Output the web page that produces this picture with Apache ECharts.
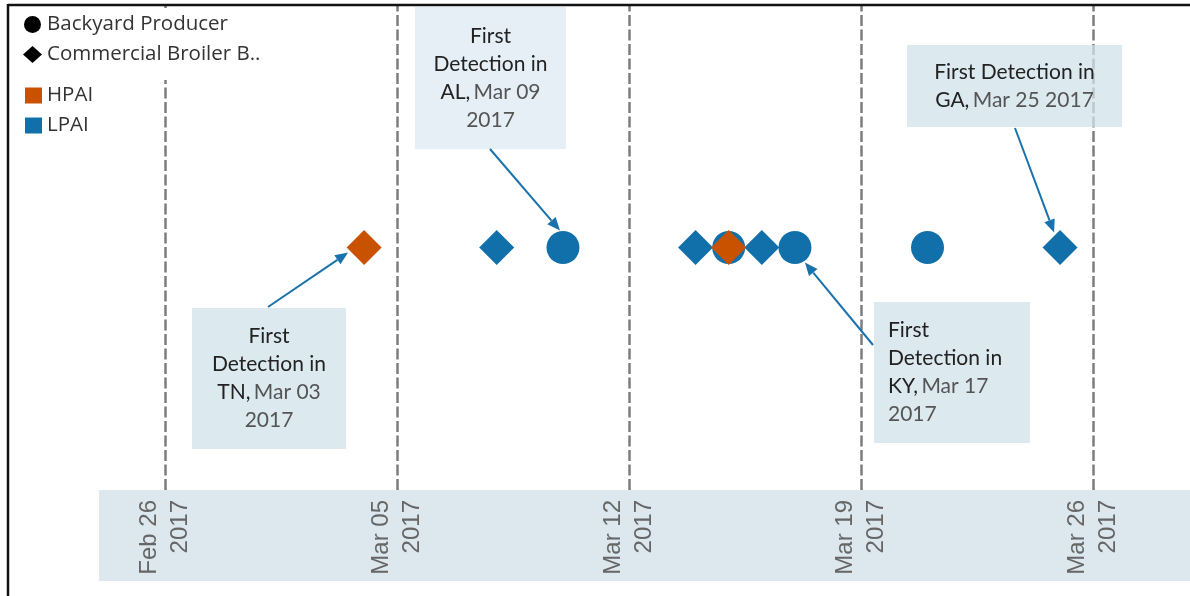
<!DOCTYPE html>
<html>
<head>
<meta charset="utf-8">
<script src="https://cdn.jsdelivr.net/npm/echarts@6/dist/echarts.min.js"></script>
<style>html,body{margin:0;padding:0;background:#fff}#c{width:1190px;height:596px}</style>
</head>
<body>
<div id="c"></div>
<script>
// ---- data ----
const originDate = '2017-02-26';
const tickDates = ['2017-02-26', '2017-03-05', '2017-03-12', '2017-03-19', '2017-03-26'];
const tickLabels = ['Feb 26\n2017', 'Mar 05\n2017', 'Mar 12\n2017', 'Mar 19\n2017', 'Mar 26\n2017'];
const lpaiBackyard = ['2017-03-10', '2017-03-15', '2017-03-17', '2017-03-21'];
const lpaiCommercial = ['2017-03-08', '2017-03-14', '2017-03-16', '2017-03-25'];
const hpaiCommercial = ['2017-03-04', '2017-03-15'];
const annState = ['TN', 'AL', 'KY', 'GA'];
const annLabel = ['Mar 03 2017', 'Mar 09 2017', 'Mar 17 2017', 'Mar 25 2017'];
const annPointDate = ['2017-03-04', '2017-03-10', '2017-03-17', '2017-03-25'];

// ---- helpers ----
const dayMs = 86400000;
const o = Date.parse(originDate + 'T00:00:00Z');
const toDay = d => Math.round((Date.parse(d + 'T00:00:00Z') - o) / dayMs);
const tickDays = tickDates.map(toDay);
const yLevel = 0.5;

const BLUE = '#1170aa', ORANGE = '#c85200';
const chart = echarts.init(document.getElementById('c'), null, {renderer: 'canvas'});

const legendText = {fontFamily: 'Open Sans', fontSize: 20.5, lineHeight: 20, color: '#333'};
const option = {
  animation: false,
  grid: {left: 99, right: 0, top: 5, bottom: 106},
  xAxis: {
    type: 'value', min: -2, max: 30.92,
    axisLine: {show: false}, axisTick: {show: false}, splitLine: {show: false},
    axisLabel: {
      customValues: tickDays,
      rotate: 90, margin: 10,
      fontFamily: 'Liberation Sans', fontSize: 24, lineHeight: 31, color: '#666',
      formatter: v => { const i = tickDays.indexOf(Math.round(v)); return i >= 0 ? tickLabels[i] : ''; }
    }
  },
  yAxis: {type: 'value', min: 0, max: 1, show: false},
  legend: [
    {
      z: 20,
      left: 18, top: 8, orient: 'vertical',
      padding: [6, 16, 15, 5], backgroundColor: '#fff',
      itemWidth: 19, itemHeight: 17, itemGap: 9,
      textStyle: legendText,
      selectedMode: false,
      data: [{name: 'Backyard Producer', icon: 'circle'}, {name: 'Commercial Broiler B..', icon: 'diamond'}]
    },
    {
      z: 20,
      left: 20, top: 80, orient: 'vertical',
      padding: 5,
      itemWidth: 17, itemHeight: 16, itemGap: 9,
      textStyle: legendText,
      selectedMode: false,
      data: [{name: 'HPAI', icon: 'rect'}, {name: 'LPAI', icon: 'rect'}]
    }
  ],
  series: [
    {
      name: 'LPAI', type: 'scatter', symbol: 'circle', symbolSize: 33,
      itemStyle: {color: BLUE, opacity: 1}, z: 3,
      data: lpaiBackyard.map(d => [toDay(d), yLevel]),
      markLine: {
        silent: true, symbol: 'none', label: {show: false}, z: 1,
        lineStyle: {color: '#7d7d7d', width: 2.5, type: [11, 3.5], opacity: 1},
        data: tickDays.map(d => ({xAxis: d}))
      }
    },
    {
      name: 'LPAI', type: 'scatter', symbol: 'diamond', symbolSize: 35,
      itemStyle: {color: BLUE, opacity: 1}, z: 3,
      data: lpaiCommercial.map(d => [toDay(d), yLevel])
    },
    {
      name: 'HPAI', type: 'scatter', symbol: 'diamond', symbolSize: 35,
      itemStyle: {color: ORANGE, opacity: 1}, z: 4,
      data: hpaiCommercial.map(d => [toDay(d), yLevel])
    },
    {name: 'Backyard Producer', type: 'scatter', symbol: 'circle', itemStyle: {color: '#000', opacity: 1}, data: []},
    {name: 'Commercial Broiler B..', type: 'scatter', symbol: 'diamond', itemStyle: {color: '#000', opacity: 1}, data: []}
  ]
};
chart.setOption(option);

// ---- annotation layout (boxes, arrows) ----
const annBox = [
  {x: 192, y: 308, w: 154, h: 141, align: 'center', fill: 'rgba(208,225,233,0.75)', lines: 4},
  {x: 415, y: 7, w: 151, h: 142, align: 'center', fill: 'rgba(220,233,242,0.75)', lines: 4},
  {x: 874, y: 302, w: 156, h: 141, align: 'left', fill: 'rgba(208,225,233,0.75)', lines: 4},
  {x: 907, y: 45, w: 215, h: 82, align: 'center', fill: 'rgba(208,225,233,0.75)', lines: 2}
];
const arrowStart = [[268, 307], [490, 149], [873, 345], [1015, 128]];
const arrowTipOffset = [[-16, 5], [-3, -17], [10, 15], [-6, -15]];

const graphics = [];
const pL = chart.convertToPixel({gridIndex: 0}, [-2, 0]);
const pR = chart.convertToPixel({gridIndex: 0}, [30.92, 0]);
graphics.push({type: 'rect', z: -1, shape: {x: pL[0], y: pL[1], width: pR[0] - pL[0], height: 91}, style: {fill: '#dce8ee'}});
// frame
graphics.push({type: 'line', z: 30, shape: {x1: 8, y1: 5, x2: 1190, y2: 5}, style: {stroke: '#111', lineWidth: 2.5}});
graphics.push({type: 'line', z: 30, shape: {x1: 8, y1: 4, x2: 8, y2: 596}, style: {stroke: '#111', lineWidth: 2.5}});

annState.forEach((st, i) => {
  const b = annBox[i];
  graphics.push({type: 'rect', z: 20, shape: {x: b.x, y: b.y, width: b.w, height: b.h}, style: {fill: b.fill}});
  const txt = b.lines === 4
    ? '{d|First}\n{d|Detection in}\n{d|' + st + ',} {g|' + annLabel[i].replace(/ (\d{4})$/, '}\n{g|$1') + '}'
    : '{d|First Detection in}\n{d|' + st + ',} {g|' + annLabel[i] + '}';
  const cx = b.align === 'center' ? b.x + b.w / 2 : b.x + 14;
  graphics.push({
    type: 'text', z: 21, x: cx, y: b.y + b.h / 2,
    style: {
      text: txt, align: b.align, verticalAlign: 'middle',
      rich: {
        d: {fontFamily: 'Lato', fontSize: 21, lineHeight: 28, fill: '#222'},
        g: {fontFamily: 'Lato', fontSize: 21, lineHeight: 28, fill: '#555'}
      }
    }
  });
  const p = chart.convertToPixel({gridIndex: 0}, [toDay(annPointDate[i]), yLevel]);
  const tip = [p[0] + arrowTipOffset[i][0], p[1] + arrowTipOffset[i][1]];
  const s = arrowStart[i];
  const dx = tip[0] - s[0], dy = tip[1] - s[1], L = Math.hypot(dx, dy);
  const ux = dx / L, uy = dy / L;
  const hl = 13, hw = 5.5;
  const base = [tip[0] - ux * hl, tip[1] - uy * hl];
  graphics.push({type: 'line', z: 22, shape: {x1: s[0], y1: s[1], x2: base[0], y2: base[1]}, style: {stroke: '#1a72ad', lineWidth: 2}});
  graphics.push({type: 'polygon', z: 22, shape: {points: [tip, [base[0] - uy * hw, base[1] + ux * hw], [base[0] + uy * hw, base[1] - ux * hw]]}, style: {fill: '#1a72ad'}});
});
chart.setOption({graphic: graphics});
</script>
</body>
</html>
